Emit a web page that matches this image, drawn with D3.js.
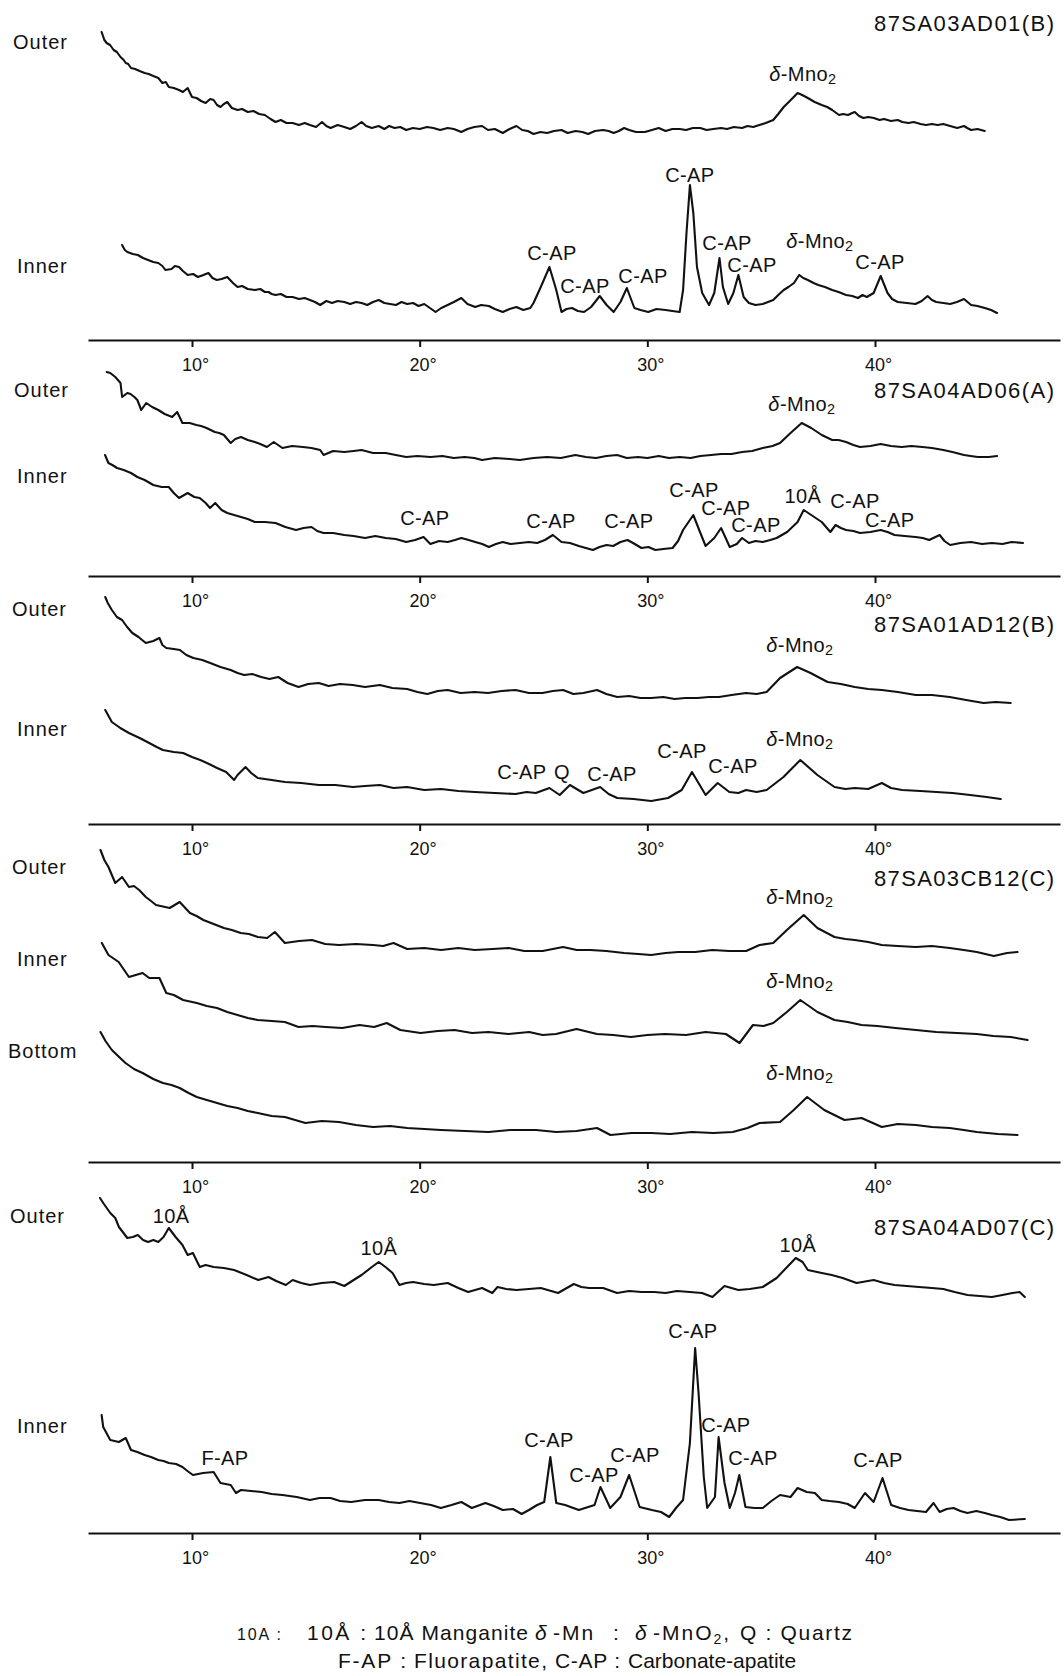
<!DOCTYPE html>
<html>
<head>
<meta charset="utf-8">
<script src="https://cdn.jsdelivr.net/npm/d3@7"></script>
<style>
  body { margin: 0; background: #fff; }
  svg { display: block; }
  text { font-family: "Liberation Sans", Arial, Helvetica, sans-serif; fill: #111; }
</style>
</head>
<body>
<svg id="chart" width="1064" height="1676"></svg>
<script>
// 2θ tick values (degrees) shared by every pattern
const tickAngles = [10, 20, 30, 40];

// XRD patterns: [2θ (deg), relative intensity]
const ad01Outer = [[6.03,108],[6.15,100],[6.25,97],[6.4,95],[6.56,90],[6.7,88],[6.86,83],[7.0,80],[7.09,77],[7.2,76],[7.32,72],[7.5,71],[7.7,69],[7.92,67],[8.1,66],[8.3,64],[8.52,62],[8.7,57],[8.85,58],[8.98,53],[9.2,52],[9.43,50],[9.6,48],[9.81,52],[10.0,43],[10.2,42],[10.4,39],[10.6,37],[10.8,41],[10.95,40],[11.1,35],[11.25,33],[11.4,36],[11.55,38],[11.75,32],[12.0,30],[12.2,31],[12.45,28],[12.7,29],[12.95,26],[13.2,25],[13.45,21],[13.67,18],[13.9,20],[14.15,17],[14.42,17],[14.7,15],[14.95,17],[15.18,15],[15.45,13],[15.71,18],[15.9,14],[16.09,12],[16.4,15],[16.69,13],[16.95,11],[17.2,14],[17.45,18],[17.65,14],[17.9,12],[18.2,14],[18.45,11],[18.66,14],[18.9,12],[19.15,13],[19.41,10],[19.7,12],[20.0,11],[20.32,13],[20.6,12],[20.9,10],[21.23,12],[21.5,11],[21.83,8],[22.1,11],[22.4,13],[22.74,14],[23.0,10],[23.3,11],[23.65,7],[23.95,11],[24.25,14],[24.5,10],[24.75,9],[25.0,6],[25.3,8],[25.6,7],[25.9,9],[26.23,10],[26.5,7],[26.85,9],[27.15,8],[27.4,6],[27.7,9],[28.06,10],[28.3,9],[28.52,7],[28.75,9],[28.98,12],[29.2,10],[29.5,8],[29.89,8],[30.2,10],[30.5,12],[30.8,9],[31.1,11],[31.42,11],[31.7,10],[32.0,12],[32.33,12],[32.6,10],[32.9,11],[33.24,12],[33.5,11],[33.8,13],[34.16,12],[34.4,14],[34.65,13],[34.92,15],[35.2,17],[35.53,20],[35.75,26],[35.99,33],[36.3,40],[36.6,47],[36.8,45],[37.05,42],[37.35,38],[37.66,35],[37.9,33],[38.12,30],[38.3,27],[38.42,25],[38.6,26],[38.81,25],[39.0,27],[39.11,28],[39.3,24],[39.49,22],[39.7,23],[39.95,22],[40.2,20],[40.4,21],[40.7,19],[41.0,20],[41.2,18],[41.47,17],[41.7,18],[42.0,16],[42.24,15],[42.5,16],[42.75,15],[43.0,16],[43.3,14],[43.61,12],[43.91,14],[44.05,12],[44.22,10],[44.5,11],[44.82,9]];
const ad01Inner = [[6.93,75],[7.05,70],[7.16,68],[7.4,66],[7.62,65],[7.85,62],[8.07,60],[8.3,58],[8.52,57],[8.7,54],[8.83,50],[9.1,51],[9.25,54],[9.43,53],[9.6,49],[9.81,45],[10.05,46],[10.26,43],[10.5,45],[10.72,47],[10.9,42],[11.09,40],[11.3,41],[11.55,43],[11.8,37],[12.0,33],[12.2,34],[12.45,31],[12.76,30],[13.0,31],[13.2,28],[13.36,28],[13.5,26],[13.67,25],[13.9,26],[14.15,23],[14.42,23],[14.7,21],[14.95,22],[15.18,20],[15.4,18],[15.63,15],[15.9,19],[16.15,17],[16.4,19],[16.69,18],[16.95,16],[17.2,18],[17.45,17],[17.7,15],[17.95,18],[18.2,20],[18.45,17],[18.7,16],[18.96,15],[19.2,18],[19.45,16],[19.71,17],[19.95,14],[20.2,16],[20.45,12],[20.7,8],[20.95,12],[21.23,15],[21.5,18],[21.83,22],[22.1,16],[22.44,13],[22.7,15],[23.04,14],[23.3,11],[23.65,8],[23.95,11],[24.25,13],[24.55,10],[24.86,12],[25.0,17],[25.32,33],[25.7,53],[26.0,30],[26.23,8],[26.45,11],[26.69,12],[26.95,9],[27.22,8],[27.53,13],[27.91,24],[28.21,15],[28.52,8],[28.82,18],[29.1,32],[29.43,12],[29.7,10],[30.04,8],[30.4,11],[30.8,10],[31.1,9],[31.42,8],[31.57,30],[31.72,87],[31.87,135],[32.02,107],[32.18,53],[32.41,27],[32.71,15],[32.94,27],[33.17,62],[33.32,33],[33.55,16],[33.78,27],[34.0,45],[34.23,23],[34.46,17],[34.75,15],[35.07,16],[35.3,18],[35.53,20],[35.75,25],[35.99,30],[36.2,33],[36.44,37],[36.67,45],[36.85,42],[37.05,40],[37.3,37],[37.51,35],[37.8,33],[38.12,30],[38.4,28],[38.73,25],[39.0,24],[39.25,22],[39.45,25],[39.64,23],[39.94,27],[40.25,44],[40.55,27],[40.75,21],[41.0,18],[41.4,17],[41.78,16],[42.05,19],[42.31,24],[42.5,20],[42.69,18],[43.0,17],[43.3,16],[43.6,18],[43.91,21],[44.22,15],[44.5,14],[44.82,12],[45.1,10],[45.36,7]];
const ad06Outer = [[6.25,98],[6.41,97],[6.63,93],[6.86,87],[6.93,73],[7.16,77],[7.3,76],[7.47,73],[7.6,70],[7.77,60],[7.99,67],[8.25,63],[8.52,60],[8.8,56],[9.13,53],[9.35,58],[9.58,47],[9.9,47],[10.19,45],[10.4,44],[10.64,42],[11.0,38],[11.2,37],[11.4,35],[11.7,27],[11.9,31],[12.15,33],[12.45,30],[12.76,28],[13.0,26],[13.29,23],[13.59,28],[13.97,22],[14.4,24],[14.87,23],[15.25,22],[15.63,20],[15.78,15],[16.2,19],[16.69,18],[17.1,19],[17.45,20],[17.95,17],[18.51,17],[18.95,15],[19.41,13],[19.9,14],[20.47,13],[21.0,14],[21.5,12],[21.98,13],[22.4,12],[22.74,10],[23.3,12],[23.95,11],[24.4,10],[25.0,12],[25.6,13],[26.2,12],[26.84,15],[27.3,13],[27.75,12],[28.2,14],[28.67,15],[29.1,12],[29.59,13],[30.0,12],[30.5,14],[30.95,12],[31.42,13],[31.9,12],[32.33,14],[32.8,15],[33.24,16],[33.7,16],[34.16,18],[34.6,19],[35.07,22],[35.5,24],[35.83,27],[36.29,37],[36.78,47],[37.2,42],[37.66,35],[38.12,30],[38.4,30],[38.73,28],[39.05,25],[39.34,23],[39.8,24],[40.25,26],[40.7,24],[41.17,23],[41.6,24],[42.08,23],[42.5,22],[43.0,20],[43.4,18],[43.91,15],[44.2,14],[44.52,13],[45.0,13],[45.36,14]];
const ad06Inner = [[6.18,100],[6.33,92],[6.5,90],[6.71,87],[7.0,85],[7.32,82],[7.6,78],[7.92,75],[8.3,70],[8.67,68],[8.98,68],[9.2,62],[9.43,57],[9.81,62],[10.1,58],[10.34,57],[10.6,52],[10.79,47],[11.02,52],[11.3,45],[11.55,42],[11.85,40],[12.15,38],[12.45,36],[12.76,33],[13.2,33],[13.67,32],[14.1,28],[14.57,25],[14.9,27],[15.25,28],[15.5,24],[15.78,22],[16.2,22],[16.69,20],[17.1,19],[17.6,17],[18.05,19],[18.51,17],[18.95,16],[19.41,13],[19.8,15],[20.17,18],[20.47,11],[20.85,14],[21.23,13],[21.55,15],[21.83,17],[22.15,15],[22.44,13],[22.75,11],[23.04,8],[23.35,11],[23.65,13],[24.0,11],[24.4,12],[24.8,13],[25.16,12],[25.5,15],[25.85,20],[26.23,13],[26.6,12],[26.99,9],[27.3,7],[27.61,5],[27.9,8],[28.21,10],[28.5,9],[28.82,13],[29.13,15],[29.45,11],[29.74,7],[30.05,8],[30.35,5],[30.7,6],[31.11,7],[31.35,14],[31.57,25],[32.02,40],[32.33,22],[32.56,9],[32.94,17],[33.24,27],[33.62,8],[33.93,11],[34.16,17],[34.46,12],[34.75,14],[35.07,13],[35.4,15],[35.68,17],[36.14,23],[36.6,33],[36.87,45],[37.2,40],[37.66,33],[38.04,23],[38.27,30],[38.5,27],[38.73,25],[39.05,24],[39.34,22],[39.8,23],[40.25,25],[40.55,23],[40.86,20],[41.3,19],[41.78,18],[42.1,17],[42.38,15],[42.84,20],[43.05,14],[43.3,10],[43.75,12],[44.22,13],[44.7,11],[45.13,12],[45.6,11],[46.0,13],[46.5,12]];
const ad12Outer = [[6.19,118],[6.3,112],[6.48,105],[6.7,98],[6.93,95],[7.15,88],[7.38,82],[7.65,78],[7.97,72],[8.3,74],[8.57,77],[8.7,70],[8.87,67],[9.2,66],[9.47,65],[9.75,60],[10.06,57],[10.45,55],[10.8,52],[11.25,48],[11.7,45],[12.0,42],[12.29,40],[12.65,41],[13.04,38],[13.4,36],[13.79,38],[14.2,32],[14.68,28],[15.1,31],[15.57,32],[16.0,29],[16.5,31],[17.06,30],[17.6,28],[18.25,30],[18.8,27],[19.45,26],[19.9,23],[20.34,21],[20.8,24],[21.23,25],[21.8,22],[22.42,23],[23.0,22],[23.6,24],[24.21,25],[24.8,22],[25.4,22],[25.85,24],[26.3,25],[26.75,21],[27.19,22],[27.79,25],[28.2,21],[28.68,18],[29.2,19],[29.7,17],[30.17,17],[30.7,18],[31.2,16],[31.66,17],[32.2,17],[32.7,18],[33.15,18],[33.7,20],[34.34,22],[34.8,21],[35.24,23],[35.83,37],[36.58,48],[37.17,42],[37.5,38],[37.92,33],[38.5,31],[39.11,28],[39.7,26],[40.3,25],[41.0,23],[41.79,20],[42.5,20],[43.28,18],[44.0,15],[44.77,12],[45.3,13],[45.96,12]];
const ad12Inner = [[6.19,100],[6.48,88],[6.85,82],[7.23,77],[7.7,72],[8.12,67],[8.45,63],[8.72,60],[9.2,58],[9.61,57],[10.0,53],[10.36,50],[10.75,46],[11.1,42],[11.5,38],[11.85,30],[12.0,35],[12.35,43],[12.6,37],[12.89,32],[13.5,30],[14.08,28],[14.8,27],[15.57,25],[16.3,25],[17.06,23],[17.6,24],[18.25,25],[18.85,22],[19.45,23],[20.2,20],[20.94,21],[21.7,19],[22.42,18],[23.3,17],[24.21,16],[24.7,18],[25.1,17],[25.7,22],[26.15,15],[26.6,25],[27.19,17],[27.93,23],[28.3,16],[28.68,12],[29.4,11],[30.17,9],[30.91,12],[31.51,20],[31.96,38],[32.56,15],[33.09,27],[33.6,18],[34.0,17],[34.34,20],[34.8,18],[35.24,20],[35.98,33],[36.72,50],[37.47,35],[38.22,23],[38.7,21],[39.11,22],[39.7,21],[40.3,27],[40.7,22],[41.19,20],[42.0,19],[42.69,18],[43.4,17],[44.18,15],[44.9,13],[45.52,11]];
const cb12Outer = [[5.98,115],[6.15,105],[6.33,98],[6.63,82],[6.93,88],[7.23,78],[7.45,79],[7.68,75],[7.97,68],[8.2,64],[8.42,60],[9.02,57],[9.46,63],[9.91,52],[10.2,49],[10.5,45],[10.95,41],[11.4,37],[11.75,35],[12.14,32],[12.5,31],[12.89,28],[13.3,27],[13.64,33],[14.08,22],[14.7,24],[15.27,25],[15.85,21],[16.46,20],[17.2,21],[17.95,20],[18.4,19],[18.85,22],[19.45,16],[20.2,17],[20.94,15],[21.7,17],[22.42,15],[23.2,16],[23.91,17],[24.6,14],[25.4,14],[25.85,16],[26.3,18],[26.9,15],[27.49,15],[28.2,14],[28.98,12],[29.6,11],[30.17,10],[30.8,12],[31.36,13],[32.1,13],[32.85,15],[33.6,14],[34.34,14],[34.93,20],[35.53,22],[36.13,35],[36.87,50],[37.47,37],[38.22,28],[38.7,26],[39.11,25],[39.7,23],[40.3,20],[41.0,19],[41.79,18],[42.5,19],[43.28,17],[43.9,15],[44.47,13],[45.22,9],[45.8,12],[46.26,13]];
const cb12Inner = [[6.04,107],[6.33,95],[6.78,88],[7.23,73],[7.83,77],[8.12,72],[8.57,72],[8.87,57],[9.2,55],[9.61,50],[10.21,47],[10.65,44],[11.1,42],[11.55,38],[12.0,35],[12.45,32],[12.89,30],[13.5,29],[14.08,28],[14.68,23],[15.3,24],[15.87,23],[16.6,22],[17.36,25],[18.0,23],[18.55,27],[19.15,20],[20.04,17],[20.8,19],[21.53,20],[22.3,17],[23.02,18],[23.9,16],[24.81,18],[25.4,15],[25.99,16],[26.89,21],[27.79,16],[28.5,15],[29.28,13],[30.0,15],[30.77,16],[31.7,15],[32.56,18],[33.45,16],[34.05,7],[34.64,25],[35.1,24],[35.53,27],[36.13,38],[36.72,50],[37.47,38],[38.22,30],[38.8,28],[39.41,25],[40.1,24],[40.9,22],[41.8,20],[42.69,18],[43.6,17],[44.47,16],[45.2,14],[45.96,13],[46.7,10]];
const cb12Bottom = [[5.98,113],[6.2,104],[6.48,95],[6.8,88],[7.08,82],[7.45,76],[7.83,72],[8.3,66],[8.72,62],[9.1,60],[9.46,57],[9.85,52],[10.21,48],[10.65,45],[11.1,42],[11.55,39],[12.0,37],[12.45,34],[12.89,32],[13.5,29],[14.08,28],[14.98,22],[15.7,24],[16.46,23],[17.2,20],[17.95,18],[18.7,19],[19.45,17],[20.2,16],[20.94,15],[22.0,14],[23.02,13],[24.0,15],[25.11,15],[26.0,13],[26.89,14],[27.79,17],[28.38,10],[29.3,12],[30.17,12],[31.0,11],[31.96,13],[32.9,12],[33.75,13],[34.4,17],[34.93,22],[35.83,23],[36.43,35],[37.02,48],[37.77,35],[38.66,25],[39.41,27],[40.3,18],[41.0,21],[41.79,20],[42.5,18],[43.28,17],[43.9,15],[44.47,13],[45.4,11],[46.26,10]];
const ad07Outer = [[5.96,112],[6.1,107],[6.41,97],[6.63,92],[6.79,83],[7.16,72],[7.4,73],[7.62,75],[7.85,70],[8.07,68],[8.3,70],[8.52,68],[8.75,73],[8.98,82],[9.28,73],[9.58,65],[9.81,55],[10.04,57],[10.34,43],[10.6,45],[10.95,43],[11.4,42],[11.85,40],[12.4,35],[12.91,30],[13.36,33],[13.7,29],[14.12,25],[14.42,30],[14.8,27],[15.18,25],[15.7,27],[16.24,28],[16.69,24],[17.1,30],[17.45,35],[17.9,43],[18.2,48],[18.5,43],[18.81,37],[19.11,25],[19.4,27],[19.71,28],[20.2,26],[20.62,25],[21.23,27],[21.7,22],[22.13,18],[22.74,22],[23.19,17],[23.42,23],[23.8,21],[24.25,20],[24.8,21],[25.32,22],[26.08,17],[26.77,26],[27.1,23],[27.45,22],[28.06,22],[28.67,17],[29.2,19],[29.74,18],[30.3,18],[30.8,17],[31.3,19],[31.87,18],[32.4,17],[32.86,13],[33.39,24],[34.0,20],[34.5,21],[35.07,23],[35.68,32],[36.14,43],[36.52,52],[36.82,48],[37.05,40],[37.66,37],[38.1,35],[38.58,32],[39.19,27],[39.94,30],[40.4,27],[40.86,25],[41.4,24],[41.93,23],[42.5,22],[43.0,21],[43.5,18],[44.06,15],[44.6,14],[45.13,13],[45.6,15],[46.04,17],[46.35,18],[46.58,13]];
const ad07Inner = [[6.03,110],[6.1,98],[6.41,85],[6.79,83],[7.09,87],[7.32,75],[7.6,73],[7.92,70],[8.2,68],[8.52,65],[8.75,64],[8.98,62],[9.3,61],[9.58,58],[9.8,54],[10.04,50],[10.49,52],[10.95,53],[11.25,42],[11.7,40],[11.93,32],[12.15,35],[12.6,34],[13.06,33],[13.5,31],[13.97,30],[14.6,28],[15.18,25],[15.6,27],[16.09,27],[16.5,24],[16.99,23],[17.6,25],[18.2,25],[18.65,23],[19.11,22],[19.55,24],[20.02,22],[20.5,20],[20.93,17],[21.4,20],[21.83,23],[22.29,17],[22.89,22],[23.25,19],[23.65,15],[24.1,16],[24.48,11],[24.8,15],[25.16,20],[25.47,23],[25.74,68],[26.0,22],[26.39,20],[26.99,15],[27.68,20],[27.94,38],[28.37,17],[28.82,28],[29.2,50],[29.66,18],[30.2,15],[30.6,13],[30.96,8],[31.26,17],[31.57,25],[31.87,82],[32.1,177],[32.25,132],[32.48,48],[32.63,17],[32.97,28],[33.13,88],[33.39,42],[33.62,17],[33.85,32],[34.04,50],[34.31,18],[34.7,17],[35.07,17],[35.45,24],[35.83,30],[36.29,28],[36.6,37],[37.0,33],[37.36,32],[37.66,25],[38.0,24],[38.42,23],[38.8,21],[39.11,17],[39.56,32],[39.94,23],[40.33,47],[40.71,20],[41.1,17],[41.47,15],[41.85,14],[42.24,13],[42.57,22],[42.84,13],[43.15,16],[43.45,17],[43.75,14],[44.06,12],[44.45,14],[44.82,12],[45.13,10],[45.5,8],[45.89,5],[46.58,6]];

// Phase identifications: [2θ of label, intensity level of label baseline, phase]
const ad01OuterPeaks = [[36.83,59,"δ-Mno2"]];
const ad01InnerPeaks = [[25.81,60,"C-AP"],[27.26,27,"C-AP"],[29.81,37,"C-AP"],[31.87,138,"C-AP"],[33.5,70,"C-AP"],[34.6,48,"C-AP"],[37.58,72,"δ-Mno2"],[40.22,51,"C-AP"]];
const ad06OuterPeaks = [[36.79,59,"δ-Mno2"]];
const ad06InnerPeaks = [[20.23,30,"C-AP"],[25.77,27,"C-AP"],[29.19,27,"C-AP"],[32.05,58,"C-AP"],[33.45,40,"C-AP"],[34.77,23,"C-AP"],[36.83,52,"10Å"],[39.12,47,"C-AP"],[40.65,28,"C-AP"]];
const ad12OuterPeaks = [[36.7,63,"δ-Mno2"]];
const ad12InnerPeaks = [[24.49,31,"C-AP"],[26.25,31,"Q"],[28.45,29,"C-AP"],[31.52,52,"C-AP"],[33.76,37,"C-AP"],[36.7,64,"δ-Mno2"]];
const cb12OuterPeaks = [[36.7,61,"δ-Mno2"]];
const cb12InnerPeaks = [[36.7,62,"δ-Mno2"]];
const cb12BottomPeaks = [[36.7,65,"δ-Mno2"]];
const ad07OuterPeaks = [[9.08,87,"10Å"],[18.21,55,"10Å"],[36.61,58,"10Å"]];
const ad07InnerPeaks = [[11.45,60,"F-AP"],[25.68,78,"C-AP"],[27.66,43,"C-AP"],[29.46,63,"C-AP"],[32.0,187,"C-AP"],[33.45,93,"C-AP"],[34.64,60,"C-AP"],[40.13,58,"C-AP"]];

// Page layout for the five samples
const panels = [
  { sample: "87SA03AD01(B)", sampleY: 31, axisY: 340, traces: [
    { row: "Outer", rowX: 13, rowY: 49, base: 140, data: ad01Outer, peaks: ad01OuterPeaks },
    { row: "Inner", rowX: 17, rowY: 273, base: 320, data: ad01Inner, peaks: ad01InnerPeaks } ] },
  { sample: "87SA04AD06(A)", sampleY: 398, axisY: 576, traces: [
    { row: "Outer", rowX: 14, rowY: 397, base: 470, data: ad06Outer, peaks: ad06OuterPeaks },
    { row: "Inner", rowX: 17, rowY: 483, base: 555, data: ad06Inner, peaks: ad06InnerPeaks } ] },
  { sample: "87SA01AD12(B)", sampleY: 632, axisY: 824, traces: [
    { row: "Outer", rowX: 12, rowY: 616, base: 715, data: ad12Outer, peaks: ad12OuterPeaks },
    { row: "Inner", rowX: 17, rowY: 736, base: 810, data: ad12Inner, peaks: ad12InnerPeaks } ] },
  { sample: "87SA03CB12(C)", sampleY: 886, axisY: 1162, traces: [
    { row: "Outer", rowX: 12, rowY: 874, base: 965, data: cb12Outer, peaks: cb12OuterPeaks },
    { row: "Inner", rowX: 17, rowY: 966, base: 1050, data: cb12Inner, peaks: cb12InnerPeaks },
    { row: "Bottom", rowX: 8, rowY: 1058, base: 1145, data: cb12Bottom, peaks: cb12BottomPeaks } ] },
  { sample: "87SA04AD07(C)", sampleY: 1235, axisY: 1533, traces: [
    { row: "Outer", rowX: 10, rowY: 1223, base: 1310, data: ad07Outer, peaks: ad07OuterPeaks },
    { row: "Inner", rowX: 17, rowY: 1433, base: 1525, data: ad07Inner, peaks: ad07InnerPeaks } ] }
];

const svg = d3.select("#chart");
const x = d3.scaleLinear().domain([10, 40]).range([192, 875]);
const axisLeft = 88, axisRight = 1060;
const axisScale = x.copy().domain([x.invert(axisLeft), x.invert(axisRight)]).range([axisLeft, axisRight]);

// Phase label, with δ in italics and the subscript 2 of "Mno2"
function phaseLabel(g, px, py, label, size) {
  const t = g.append("text")
    .attr("x", px).attr("y", py)
    .attr("text-anchor", "middle")
    .attr("font-size", size)
    .attr("letter-spacing", 0.4);
  if (label.startsWith("δ-")) {
    t.append("tspan").attr("font-style", "italic").text("δ");
    t.append("tspan").text(label.slice(1, -1));
    t.append("tspan").attr("font-size", size * 0.72).attr("dy", 3).text(label.slice(-1));
  } else {
    t.text(label);
  }
}

panels.forEach(p => {
  const g = svg.append("g");

  g.append("text")
    .attr("x", 874).attr("y", p.sampleY)
    .attr("font-size", 22)
    .attr("textLength", 180).attr("lengthAdjust", "spacing")
    .text(p.sample);

  p.traces.forEach(tr => {
    const y = d3.scaleLinear().domain([0, 100]).range([tr.base, tr.base - 100]);
    const line = d3.line().x(d => x(d[0])).y(d => y(d[1]));

    g.append("text")
      .attr("x", tr.rowX).attr("y", tr.rowY)
      .attr("font-size", 20)
      .attr("letter-spacing", 1)
      .text(tr.row);

    g.append("path")
      .datum(tr.data)
      .attr("d", line)
      .attr("fill", "none")
      .attr("stroke", "#111")
      .attr("stroke-width", 2.1)
      .attr("stroke-linejoin", "round")
      .attr("stroke-linecap", "round");

    tr.peaks.forEach(pk => phaseLabel(g, x(pk[0]), y(pk[1]), pk[2], 20));
  });

  const ax = g.append("g")
    .attr("transform", `translate(0,${p.axisY})`)
    .call(d3.axisBottom(axisScale)
      .tickValues(tickAngles)
      .tickSize(7)
      .tickSizeOuter(0)
      .tickPadding(11)
      .tickFormat(d => d + "°"));
  ax.select(".domain").attr("stroke", "#111").attr("stroke-width", 2);
  ax.selectAll(".tick line").attr("stroke", "#111").attr("stroke-width", 2);
  ax.selectAll(".tick text")
    .attr("font-size", 18)
    .attr("dx", 3)
    .attr("fill", "#111")
    .style("font-family", "'Liberation Sans', Arial, sans-serif");
});

// Key to the phase abbreviations
const notes = svg.append("g");
function note(px, py, size, build, w) {
  const t = notes.append("text")
    .attr("x", px).attr("y", py)
    .attr("font-size", size);
  if (w) t.attr("textLength", w).attr("lengthAdjust", "spacing");
  build(t);
}
note(237, 1640, 16, t => t.text("10A :"), 44);
note(307, 1640, 21, t => t.text("10Å :"), 59);
note(374, 1640, 21, t => t.text("10Å Manganite"), 154);
note(535, 1640, 21, t => t.attr("font-style", "italic").text("δ"));
note(553, 1640, 21, t => t.attr("letter-spacing", 2).attr("word-spacing", 10).text("-Mn :"));
note(635, 1640, 21, t => t.attr("font-style", "italic").text("δ"));
note(653, 1640, 21, t => {
  t.attr("letter-spacing", 2);
  t.append("tspan").text("-MnO");
  t.append("tspan").attr("font-size", 14).attr("dy", 4).text("2");
  t.append("tspan").attr("dy", -4).text(",");
});
note(740, 1640, 21, t => t.text("Q : Quartz"), 112);
note(338, 1668, 21, t => t.text("F-AP :"), 68);
note(414, 1668, 21, t => t.text("Fluorapatite,"), 133);
note(555, 1668, 21, t => t.text("C-AP :"), 65);
note(628, 1668, 21, t => t.text("Carbonate-apatite"));
</script>
</body>
</html>
